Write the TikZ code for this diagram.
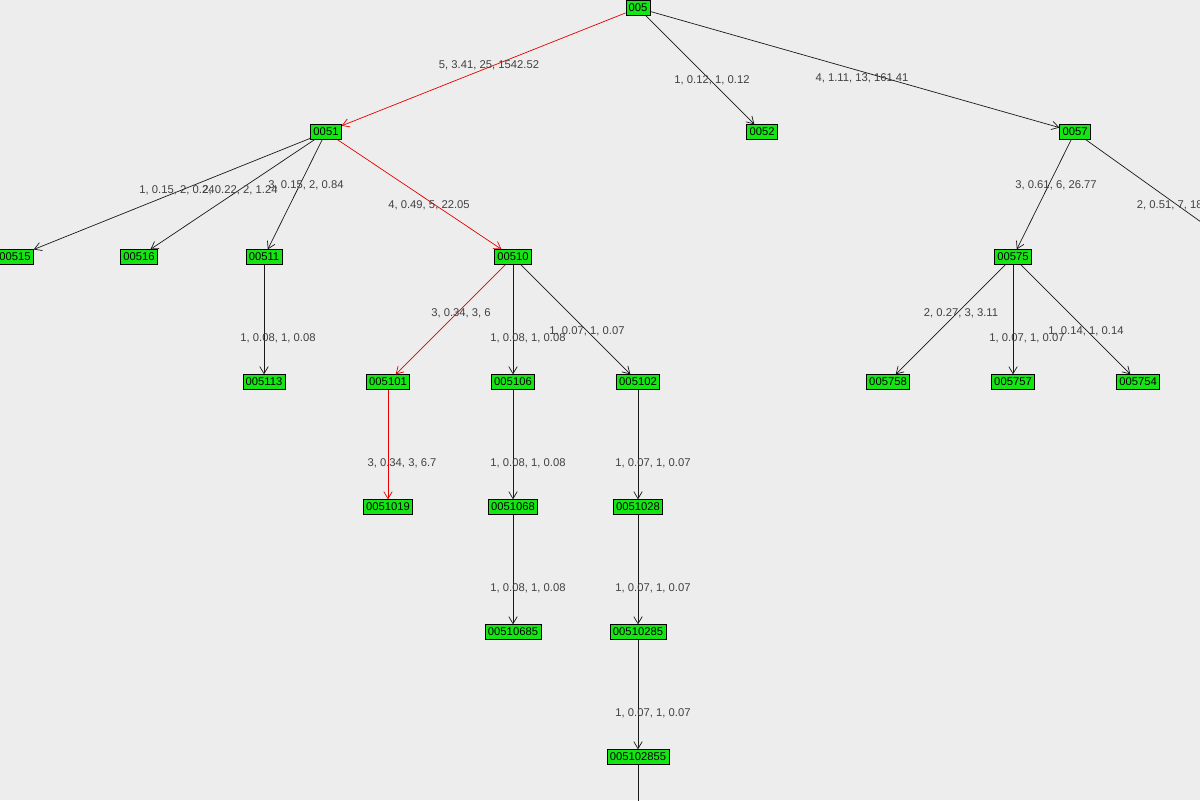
\documentclass[tikz,border=0pt]{standalone}
\usepackage{fontspec}
\setmainfont{Liberation Sans}
\usetikzlibrary{arrows.meta}
\definecolor{NodeFill}{RGB}{20,230,20}
\colorlet{BackGround}{black!7}
\colorlet{PathEdge}{red!90!black}
\colorlet{LabelText}{black!75}

\begin{document}
\begin{tikzpicture}[x=0.025cm, y=-0.025cm,
    box/.style={draw=black, fill=NodeFill, inner xsep=2pt, inner ysep=1.2pt, minimum height=10.5pt,
      font=\fontsize{8}{9}\selectfont},
    edge/.style={draw=black!90, line width=0.5pt, -{Straight Barb[length=5pt,width=6pt]}},
    redge/.style={edge, draw=PathEdge},
    lbl/.style={text=LabelText, font=\fontsize{8}{9}\selectfont}]

    \fill[BackGround] (0,0) rectangle (1200,800);
    \clip (0,0) rectangle (1200,800);

    % Nodos del arbol
    \node[box] (n005) at (638,8) {005};
    \node[box] (n0051) at (326,132) {0051};
    \node[box] (n0052) at (762,132) {0052};
    \node[box] (n0057) at (1075,132) {0057};

    \node[box] (n00515) at (15,257) {00515};
    \node[box] (n00516) at (139,257) {00516};
    \node[box] (n00511) at (264,257) {00511};
    \node[box] (n00510) at (513,257) {00510};
    \node[box] (n00575) at (1013,257) {00575};

    \node[box] (n005113) at (264,382) {005113};
    \node[box] (n005101) at (388,382) {005101};
    \node[box] (n005106) at (513,382) {005106};
    \node[box] (n005102) at (638,382) {005102};
    \node[box] (n005758) at (888,382) {005758};
    \node[box] (n005757) at (1013,382) {005757};
    \node[box] (n005754) at (1138,382) {005754};

    \node[box] (n0051019) at (388,507) {0051019};
    \node[box] (n0051068) at (513,507) {0051068};
    \node[box] (n0051028) at (638,507) {0051028};

    \node[box] (n00510685) at (513,632) {00510685};
    \node[box] (n00510285) at (638,632) {00510285};
    \node[box] (n005102855) at (638,757) {005102855};

    % Extremos fuera del cuadro
    \coordinate (out57) at (1250,257);
    \coordinate (out2855) at (638,830);

    % Aristas del camino marcado
    \draw[redge] (n005) -- (n0051);
    \draw[redge] (n0051) -- (n00510);
    \draw[redge] (n00510) -- (n005101);
    \draw[redge] (n005101) -- (n0051019);

    % Resto de aristas
    \draw[edge] (n005) -- (n0052);
    \draw[edge] (n005) -- (n0057);
    \draw[edge] (n0051) -- (n00515);
    \draw[edge] (n0051) -- (n00516);
    \draw[edge] (n0051) -- (n00511);
    \draw[edge] (n0057) -- (n00575);
    \draw[draw=black!90, line width=0.5pt] (n0057) -- (out57);
    \draw[edge] (n00511) -- (n005113);
    \draw[edge] (n00510) -- (n005106);
    \draw[edge] (n00510) -- (n005102);
    \draw[edge] (n00575) -- (n005758);
    \draw[edge] (n00575) -- (n005757);
    \draw[edge] (n00575) -- (n005754);
    \draw[edge] (n005106) -- (n0051068);
    \draw[edge] (n005102) -- (n0051028);
    \draw[edge] (n0051068) -- (n00510685);
    \draw[edge] (n0051028) -- (n00510285);
    \draw[edge] (n00510285) -- (n005102855);
    \draw[draw=black!90, line width=0.5pt] (n005102855) -- (out2855);

    % Etiquetas de las aristas
    \node[lbl] (l1) at (489,65) {5, 3.41, 25, 1542.52};
    \node[lbl] (l2) at (712,80) {1, 0.12, 1, 0.12};
    \node[lbl] (l3) at (862,78) {4, 1.11, 13, 161.41};
    \node[lbl] (l4) at (177,190) {1, 0.15, 2, 0.24};
    \node[lbl] (l5) at (240,190) {2, 0.22, 2, 1.24};
    \node[lbl] (l6) at (306,185) {3, 0.15, 2, 0.84};
    \node[lbl] (l7) at (429,205) {4, 0.49, 5, 22.05};
    \node[lbl] (l8) at (1056,185) {3, 0.61, 6, 26.77};
    \node[lbl, anchor=west] (l9) at (1132,205) {2, 0.51, 7, 18.00};
    \node[lbl] (l10) at (278,338) {1, 0.08, 1, 0.08};
    \node[lbl] (l11) at (461,313) {3, 0.34, 3, 6};
    \node[lbl] (l12) at (528,338) {1, 0.08, 1, 0.08};
    \node[lbl] (l13) at (587,331) {1, 0.07, 1, 0.07};
    \node[lbl] (l14) at (961,313) {2, 0.27, 3, 3.11};
    \node[lbl] (l15) at (1027,338) {1, 0.07, 1, 0.07};
    \node[lbl] (l16) at (1086,331) {1, 0.14, 1, 0.14};
    \node[lbl] (l17) at (402,463) {3, 0.34, 3, 6.7};
    \node[lbl] (l18) at (528,463) {1, 0.08, 1, 0.08};
    \node[lbl] (l19) at (653,463) {1, 0.07, 1, 0.07};
    \node[lbl] (l20) at (528,588) {1, 0.08, 1, 0.08};
    \node[lbl] (l21) at (653,588) {1, 0.07, 1, 0.07};
    \node[lbl] (l22) at (653,713) {1, 0.07, 1, 0.07};
\end{tikzpicture}
\end{document}
